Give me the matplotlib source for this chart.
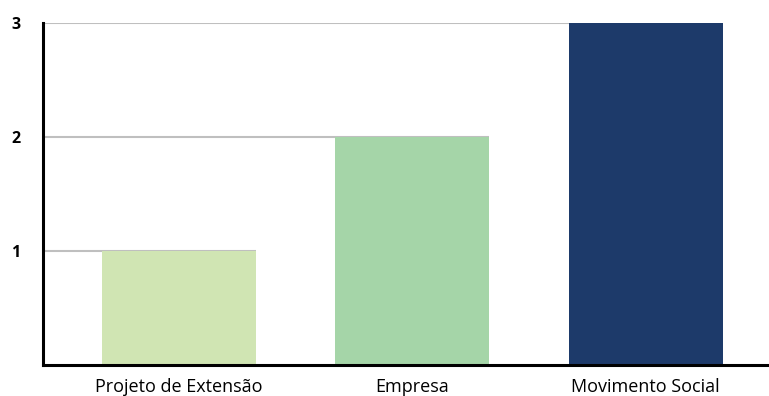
import matplotlib
matplotlib.use('Agg')
import matplotlib.pyplot as plt

# --- Data ---
categories = ['Projeto de Extensão', 'Empresa', 'Movimento Social']
values = [1, 2, 3]
colors = ['#d0e5b3', '#a5d5a8', '#1d3a6a']
yticks = [1, 2, 3]

plt.rcParams['font.family'] = ['Open Sans', 'DejaVu Sans']

fig = plt.figure(figsize=(7.69, 3.96), dpi=100)
ax = fig.add_axes([43 / 769, 31 / 396, 1 - 43 / 769, 342 / 396])

x = list(range(len(categories)))
width = 0.66
xmin, xmax = -0.582, 2.529

# lines from the axis to each bar's right edge
for i, v in zip(x, values):
    ax.hlines(v, xmin, i + width / 2, color='#bfbfbf', lw=1.5, zorder=1)

ax.bar(x, values, width=width, color=colors, zorder=2)

ax.set_xlim(xmin, xmax)
ax.set_ylim(0, 3)
ax.set_xticks(x)
ax.set_xticklabels(categories, fontsize=13)
ax.set_yticks(yticks)
ax.set_yticklabels([str(t) for t in yticks], fontsize=11.5, fontweight='bold')
ax.tick_params(axis='both', length=0)
ax.tick_params(axis='x', pad=9)
ax.tick_params(axis='y', pad=16.5)

for s in ['top', 'right']:
    ax.spines[s].set_visible(False)
for s in ['left', 'bottom']:
    ax.spines[s].set_linewidth(2.2)
    ax.spines[s].set_color('black')

fig.savefig('out.png', dpi=100)
